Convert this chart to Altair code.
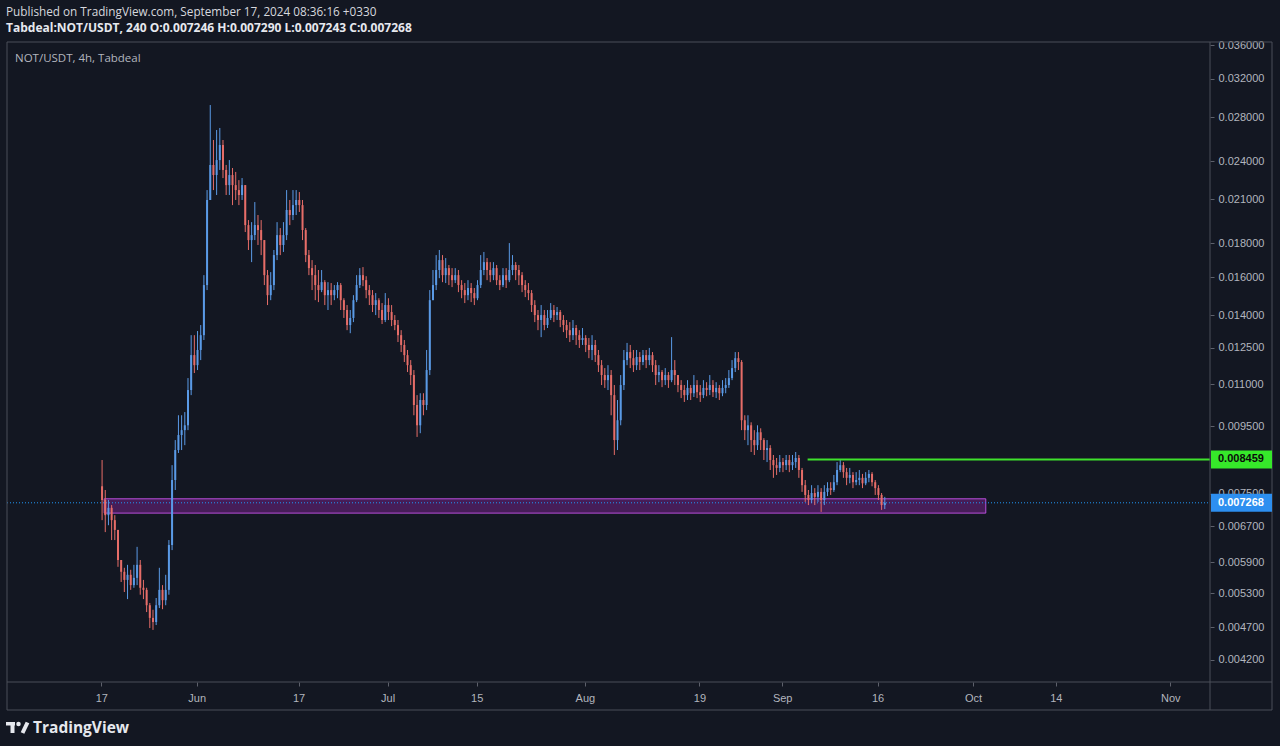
import altair as alt
import pandas as pd

# ---------------- data (12h candles) ----------------
first_open = 0.00770
close = [
    0.00734, 0.00696, 0.00714, 0.00684, 0.00661, 0.00595, 0.00571, 0.00555, 0.00565, 0.00545,
    0.00559, 0.00585, 0.00540, 0.00536, 0.00508, 0.00486, 0.00479, 0.00508, 0.00536, 0.00517,
    0.00536, 0.00627, 0.00787, 0.00874, 0.00921, 0.00937, 0.00953, 0.01078, 0.01218, 0.01176,
    0.01240, 0.01306, 0.01556, 0.02095, 0.02368, 0.02286, 0.02409, 0.02539, 0.02327, 0.02207,
    0.02286, 0.02207, 0.02169, 0.02132, 0.02207, 0.01919, 0.01821, 0.01853, 0.01919, 0.01886,
    0.01821, 0.01611, 0.01502, 0.01556, 0.01728, 0.01853, 0.01790, 0.01853, 0.02023, 0.01988,
    0.02058, 0.02095, 0.02058, 0.01886, 0.01728, 0.01651, 0.01611, 0.01556, 0.01529, 0.01572,
    0.01502, 0.01529, 0.01502, 0.01529, 0.01556, 0.01476, 0.01426, 0.01353, 0.01387, 0.01476,
    0.01556, 0.01611, 0.01583, 0.01529, 0.01502, 0.01451, 0.01476, 0.01426, 0.01377, 0.01451,
    0.01416, 0.01377, 0.01353, 0.01306, 0.01262, 0.01218, 0.01176, 0.01136, 0.01023, 0.00953,
    0.01041, 0.01023, 0.01156, 0.01476, 0.01556, 0.01640, 0.01698, 0.01611, 0.01651, 0.01611,
    0.01583, 0.01611, 0.01556, 0.01529, 0.01502, 0.01540, 0.01513, 0.01486, 0.01556, 0.01640,
    0.01686, 0.01640, 0.01611, 0.01651, 0.01583, 0.01556, 0.01611, 0.01583, 0.01640, 0.01669,
    0.01640, 0.01611, 0.01556, 0.01529, 0.01513, 0.01451, 0.01401, 0.01377, 0.01401, 0.01353,
    0.01387, 0.01426, 0.01401, 0.01416, 0.01377, 0.01353, 0.01329, 0.01306, 0.01339, 0.01306,
    0.01284, 0.01293, 0.01262, 0.01240, 0.01262, 0.01218, 0.01176, 0.01136, 0.01116, 0.01136,
    0.01059, 0.00905, 0.00970, 0.01097, 0.01197, 0.01231, 0.01205, 0.01176, 0.01210, 0.01189,
    0.01218, 0.01197, 0.01218, 0.01176, 0.01136, 0.01148, 0.01116, 0.01136, 0.01116, 0.01156,
    0.01136, 0.01097, 0.01078, 0.01059, 0.01086, 0.01066, 0.01097, 0.01070, 0.01059, 0.01086,
    0.01078, 0.01097, 0.01070, 0.01086, 0.01066, 0.01086, 0.01097, 0.01124, 0.01164, 0.01205,
    0.01189, 0.00970, 0.00937, 0.00953, 0.00905, 0.00889, 0.00930, 0.00905, 0.00874, 0.00880,
    0.00844, 0.00829, 0.00821, 0.00838, 0.00829, 0.00844, 0.00829, 0.00838, 0.00850, 0.00815,
    0.00773, 0.00747, 0.00734, 0.00752, 0.00742, 0.00755, 0.00734, 0.00755, 0.00765, 0.00760,
    0.00781, 0.00815, 0.00829, 0.00809, 0.00793, 0.00801, 0.00781, 0.00787, 0.00793, 0.00778,
    0.00793, 0.00804, 0.00781, 0.00765, 0.00747, 0.00721, 0.007268,
]
high = [
    0.00844, 0.00760, 0.00734, 0.00721, 0.00696, 0.00661, 0.00595, 0.00579, 0.00585, 0.00575,
    0.00585, 0.00623, 0.00595, 0.00555, 0.00540, 0.00512, 0.00500, 0.00521, 0.00579, 0.00545,
    0.00565, 0.00638, 0.00829, 0.00905, 0.00987, 0.00987, 0.00998, 0.01124, 0.01306, 0.01306,
    0.01325, 0.01353, 0.01611, 0.02169, 0.02920, 0.02584, 0.02676, 0.02695, 0.02584, 0.02368,
    0.02409, 0.02343, 0.02311, 0.02246, 0.02262, 0.02207, 0.01953, 0.01939, 0.02080, 0.01988,
    0.01953, 0.01821, 0.01640, 0.01628, 0.01759, 0.01939, 0.01899, 0.01939, 0.02169, 0.02095,
    0.02169, 0.02169, 0.02154, 0.02095, 0.01899, 0.01759, 0.01698, 0.01669, 0.01640, 0.01640,
    0.01583, 0.01572, 0.01567, 0.01556, 0.01572, 0.01567, 0.01486, 0.01451, 0.01426, 0.01502,
    0.01611, 0.01651, 0.01657, 0.01605, 0.01556, 0.01529, 0.01513, 0.01486, 0.01461, 0.01513,
    0.01486, 0.01451, 0.01401, 0.01377, 0.01329, 0.01284, 0.01240, 0.01197, 0.01156, 0.01059,
    0.01066, 0.01066, 0.01240, 0.01529, 0.01640, 0.01728, 0.01759, 0.01728, 0.01710, 0.01669,
    0.01651, 0.01651, 0.01640, 0.01583, 0.01567, 0.01583, 0.01567, 0.01540, 0.01583, 0.01728,
    0.01747, 0.01710, 0.01686, 0.01686, 0.01669, 0.01611, 0.01651, 0.01651, 0.01802, 0.01728,
    0.01686, 0.01669, 0.01628, 0.01583, 0.01567, 0.01529, 0.01476, 0.01426, 0.01451, 0.01426,
    0.01426, 0.01461, 0.01451, 0.01441, 0.01426, 0.01401, 0.01377, 0.01367, 0.01377, 0.01353,
    0.01329, 0.01339, 0.01306, 0.01293, 0.01306, 0.01284, 0.01240, 0.01197, 0.01164, 0.01176,
    0.01156, 0.01097, 0.01041, 0.01136, 0.01240, 0.01271, 0.01262, 0.01240, 0.01240, 0.01231,
    0.01240, 0.01240, 0.01249, 0.01231, 0.01197, 0.01176, 0.01156, 0.01164, 0.01148, 0.01297,
    0.01197, 0.01136, 0.01116, 0.01097, 0.01116, 0.01097, 0.01136, 0.01116, 0.01097, 0.01116,
    0.01108, 0.01136, 0.01116, 0.01108, 0.01097, 0.01116, 0.01124, 0.01156, 0.01197, 0.01231,
    0.01231, 0.01197, 0.00987, 0.00987, 0.00963, 0.00937, 0.00953, 0.00943, 0.00911, 0.00905,
    0.00889, 0.00859, 0.00850, 0.00859, 0.00850, 0.00859, 0.00859, 0.00859, 0.00868, 0.00859,
    0.00821, 0.00787, 0.00760, 0.00773, 0.00765, 0.00773, 0.00765, 0.00773, 0.00781, 0.00781,
    0.00801, 0.00838, 0.00846, 0.00838, 0.00821, 0.00821, 0.00809, 0.00809, 0.00815, 0.00804,
    0.00809, 0.00815, 0.00809, 0.00787, 0.00773, 0.00752, 0.00742,
]
low = [
    0.00684, 0.00656, 0.00672, 0.00638, 0.00638, 0.00581, 0.00551, 0.00532, 0.00519, 0.00536,
    0.00540, 0.00545, 0.00527, 0.00519, 0.00496, 0.00469, 0.00466, 0.00474, 0.00503, 0.00501,
    0.00508, 0.00527, 0.00616, 0.00760, 0.00865, 0.00874, 0.00889, 0.00937, 0.01059, 0.01144,
    0.01156, 0.01197, 0.01284, 0.01529, 0.02095, 0.02169, 0.02132, 0.02327, 0.02262, 0.02132,
    0.02132, 0.02058, 0.02095, 0.02058, 0.02095, 0.01873, 0.01759, 0.01686, 0.01821, 0.01790,
    0.01728, 0.01556, 0.01451, 0.01476, 0.01529, 0.01698, 0.01728, 0.01747, 0.01821, 0.01919,
    0.01953, 0.01988, 0.02009, 0.01821, 0.01686, 0.01611, 0.01529, 0.01476, 0.01466, 0.01518,
    0.01451, 0.01426, 0.01451, 0.01476, 0.01486, 0.01426, 0.01387, 0.01329, 0.01315, 0.01367,
    0.01466, 0.01540, 0.01550, 0.01486, 0.01451, 0.01416, 0.01401, 0.01387, 0.01358, 0.01367,
    0.01377, 0.01348, 0.01329, 0.01275, 0.01231, 0.01189, 0.01148, 0.01097, 0.00987, 0.00915,
    0.00927, 0.00987, 0.01005, 0.01136, 0.01476, 0.01529, 0.01594, 0.01572, 0.01567, 0.01556,
    0.01545, 0.01567, 0.01518, 0.01486, 0.01461, 0.01476, 0.01466, 0.01451, 0.01476, 0.01540,
    0.01611, 0.01583, 0.01572, 0.01583, 0.01556, 0.01529, 0.01545, 0.01540, 0.01572, 0.01611,
    0.01583, 0.01556, 0.01518, 0.01492, 0.01476, 0.01416, 0.01367, 0.01329, 0.01297, 0.01329,
    0.01339, 0.01377, 0.01367, 0.01377, 0.01343, 0.01320, 0.01293, 0.01275, 0.01284, 0.01262,
    0.01249, 0.01262, 0.01231, 0.01205, 0.01197, 0.01189, 0.01148, 0.01097, 0.01086, 0.01078,
    0.00987, 0.00859, 0.00874, 0.00953, 0.01078, 0.01176, 0.01164, 0.01148, 0.01156, 0.01156,
    0.01176, 0.01164, 0.01176, 0.01148, 0.01097, 0.01108, 0.01089, 0.01097, 0.01086, 0.01108,
    0.01097, 0.01070, 0.01048, 0.01034, 0.01041, 0.01041, 0.01052, 0.01048, 0.01034, 0.01048,
    0.01055, 0.01059, 0.01052, 0.01048, 0.01041, 0.01055, 0.01066, 0.01086, 0.01116, 0.01148,
    0.01156, 0.00937, 0.00905, 0.00889, 0.00868, 0.00859, 0.00874, 0.00874, 0.00844, 0.00838,
    0.00815, 0.00793, 0.00801, 0.00809, 0.00809, 0.00815, 0.00809, 0.00815, 0.00821, 0.00793,
    0.00755, 0.00729, 0.00721, 0.00726, 0.00721, 0.00729, 0.00704, 0.00721, 0.00744, 0.00747,
    0.00755, 0.00773, 0.00809, 0.00793, 0.00773, 0.00778, 0.00765, 0.00773, 0.00773, 0.00765,
    0.00773, 0.00781, 0.00770, 0.00747, 0.00734, 0.00709, 0.00711,
]

price_ticks = [0.036, 0.032, 0.028, 0.024, 0.021, 0.018, 0.016, 0.014, 0.0125,
               0.011, 0.0095, 0.0075, 0.0067, 0.0059, 0.0053, 0.0047, 0.0042]
date_ticks = [(5, 17), (6, 1), (6, 17), (7, 1), (7, 15), (8, 1), (8, 19),
              (9, 1), (9, 16), (10, 1), (10, 14), (11, 1)]

resistance_price = 0.008459
resistance_start = "2024-09-05T00:00:00Z"
last_price = 0.007268
zone_start, zone_end = "2024-05-17T11:00:00Z", "2024-10-03T00:00:00Z"
zone_low, zone_high = 0.00701, 0.00737

header1 = "Published on TradingView.com, September 17, 2024 08:36:16 +0330"
header2 = "Tabdeal:NOT/USDT, 240 O:0.007246 H:0.007290 L:0.007243 C:0.007268"
pane_title = "NOT/USDT, 4h, Tabdeal"
brand = "TradingView"

# ---------------- build tables ----------------
times = pd.date_range("2024-05-17 03:00", periods=len(close), freq="12h")
opens = [first_open] + close[:-1]
df = pd.DataFrame({
    "t": list(times.strftime("%Y-%m-%dT%H:%M:%SZ")),
    "open": opens,
    "close": close,
    "high": [max(h, o, c) for h, o, c in zip(high, opens, close)],
    "low": [min(l, o, c) for l, o, c in zip(low, opens, close)],
})
df["dir"] = ["up" if c >= o else "down" for o, c in zip(opens, close)]

W, H = 1203, 640
BG = "#131722"
FRAME = "#4a4e59"
LABEL = "#b2b5be"
FONT = "Liberation Sans"
UP, DOWN = "#5a9ae6", "#e66d68"
BRAND = "#e6e8ee"

xscale = alt.Scale(type="utc", nice=False, domain=[
    alt.DateTime(year=2024, month=5, date=2, hours=23, minutes=15, utc=True),
    alt.DateTime(year=2024, month=11, date=6, hours=10, minutes=45, utc=True)])
yscale = alt.Scale(type="log", nice=False, zero=False, domain=[0.003884, 0.0364])

xaxis = alt.Axis(
    values=[alt.DateTime(year=2024, month=m, date=d, utc=True) for m, d in date_ticks],
    labelExpr="utcdate(datum.value) == 1 ? utcFormat(datum.value, '%b') : utcFormat(datum.value, '%-d')",
    labelColor=LABEL, labelFont=FONT, labelFontSize=11, labelPadding=6,
    tickColor="#5d606b", tickSize=4, domain=False, grid=False,
    labelFlush=False, labelOverlap=False, title=None)
yaxis = alt.Axis(
    orient="right", values=price_ticks, format=".6f",
    labelColor=LABEL, labelFont=FONT, labelFontSize=11, labelPadding=4,
    tickColor="#5d606b", tickSize=4, domain=False, grid=False,
    labelFlush=False, labelOverlap=False, title=None)

base = alt.Chart(df)
col = alt.Color("dir:N", scale=alt.Scale(domain=["up", "down"], range=[UP, DOWN]), legend=None)

wicks = base.mark_rule(strokeWidth=1).encode(
    x=alt.X("t:T", scale=xscale, axis=xaxis, title=None),
    y=alt.Y("low:Q", scale=yscale, axis=yaxis, title=None),
    y2="high:Q",
    color=col,
)
bodies = base.mark_bar(size=2).encode(
    x=alt.X("t:T", scale=xscale, title=None),
    y=alt.Y("open:Q", scale=yscale, title=None),
    y2="close:Q",
    color=col,
)

zone = alt.Chart(pd.DataFrame({"x1": [zone_start], "x2": [zone_end],
                               "p1": [zone_low], "p2": [zone_high]})).mark_rect(
    fill="#9c27b0", fillOpacity=0.38, stroke="#b94fdc", strokeWidth=1
).encode(
    x=alt.X("x1:T", scale=xscale, title=None), x2="x2:T",
    y=alt.Y("p1:Q", scale=yscale, title=None), y2="p2:Q",
)

last_df = pd.DataFrame({"p": [last_price]})
dotted = alt.Chart(last_df).mark_rule(color="#2196f3", strokeDash=[1, 2], strokeWidth=1).encode(
    x=alt.value(0), x2=alt.value(W),
    y=alt.Y("p:Q", scale=yscale, title=None),
)

green = alt.Chart(pd.DataFrame({"s": [resistance_start], "p": [resistance_price]})).mark_rule(
    color="#3fe22c", strokeWidth=2
).encode(
    x=alt.X("s:T", scale=xscale, title=None), x2=alt.value(W),
    y=alt.Y("p:Q", scale=yscale, title=None),
)

one = pd.DataFrame({"k": [0]})
frame = alt.Chart(one).mark_rect(fillOpacity=0, stroke=FRAME, strokeWidth=1).encode(
    x=alt.value(0), x2=alt.value(W + 62), y=alt.value(0), y2=alt.value(H + 28))
vsep = alt.Chart(one).mark_rule(color=FRAME, strokeWidth=1).encode(
    x=alt.value(W), y=alt.value(0), y2=alt.value(H + 28))
hsep = alt.Chart(one).mark_rule(color=FRAME, strokeWidth=1).encode(
    x=alt.value(0), x2=alt.value(W + 62), y=alt.value(H))

tags_df = pd.DataFrame({
    "p": [resistance_price, last_price],
    "label": [f"{resistance_price:.6f}", f"{last_price:.6f}"],
    "fill": ["#36e82a", "#2d8ff0"],
    "tc": ["#0b0b0b", "#ffffff"],
})
tag_boxes = alt.Chart(tags_df).mark_rect(yOffset=-9, y2Offset=9).encode(
    x=alt.value(W + 1), x2=alt.value(W + 62),
    y=alt.Y("p:Q", scale=yscale, title=None), y2="p:Q",
    color=alt.Color("fill:N", scale=None, legend=None),
)
tag_text = alt.Chart(tags_df).mark_text(align="left", baseline="middle", font=FONT,
                                        fontSize=11, fontWeight="bold").encode(
    x=alt.value(W + 8),
    y=alt.Y("p:Q", scale=yscale, title=None),
    text="label:N",
    color=alt.Color("tc:N", scale=None, legend=None),
)

# TradingView logo glyph (decorative shapes)
logo_bar = alt.Chart(one).mark_rect(color=BRAND).encode(
    x=alt.value(-1), x2=alt.value(8), y=alt.value(680), y2=alt.value(683.5))
logo_stem = alt.Chart(one).mark_rect(color=BRAND).encode(
    x=alt.value(3.5), x2=alt.value(7.5), y=alt.value(680), y2=alt.value(691))
logo_dot = alt.Chart(one).mark_point(color=BRAND, filled=True, opacity=1, size=20).encode(
    x=alt.value(11.5), y=alt.value(682))
logo_slash = alt.Chart(one).mark_rule(color=BRAND, strokeWidth=4).encode(
    x=alt.value(20.5), y=alt.value(680.5), x2=alt.value(15.5), y2=alt.value(691))


def txt(s, x, y, size, color, weight="normal", font="Open Sans"):
    return alt.Chart(pd.DataFrame({"s": [s]})).mark_text(
        align="left", baseline="middle", font=font, fontSize=size,
        fontWeight=weight, color=color
    ).encode(x=alt.value(x), y=alt.value(y), text="s:N")


texts = [
    txt(header1, -1, -30, 11.75, "#d6d8de"),
    txt(header2, -1, -14, 12.0, "#e6e8ee", "bold"),
    txt(pane_title, 8, 17, 11.5, LABEL),
    txt(brand, 26, 686, 15.5, BRAND, "bold"),
]

chart = alt.layer(
    zone, dotted, wicks, bodies, green, frame, vsep, hsep, tag_boxes, tag_text,
    logo_bar, logo_stem, logo_dot, logo_slash, *texts
).properties(
    width=W, height=H,
    autosize=alt.AutoSizeParams(type="none"),
    padding={"left": 7, "top": 42, "right": 70, "bottom": 64},
    background=BG,
).configure_view(stroke=None)

chart.save("out.html", embed_options={"renderer": "svg", "actions": False})
